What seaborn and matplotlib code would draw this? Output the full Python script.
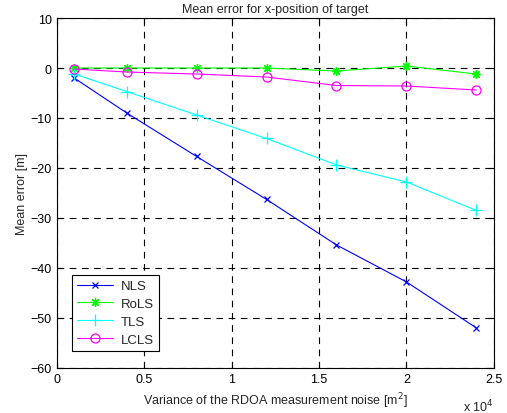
import numpy as np
import pandas as pd
import matplotlib
matplotlib.use("Agg")
import matplotlib.pyplot as plt
import seaborn as sns
from matplotlib.ticker import FuncFormatter

noise_var = [1000, 4000, 8000, 12000, 16000, 20000, 24000]
nls = [-2.0, -9.0, -17.7, -26.3, -35.4, -42.8, -52.0]
rols = [0.0, 0.0, 0.0, 0.0, -0.6, 0.4, -1.2]
tls = [-1.2, -4.7, -9.4, -14.1, -19.4, -22.8, -28.5]
lcls = [-0.2, -0.8, -1.2, -1.8, -3.5, -3.6, -4.4]
methods = ["NLS", "RoLS", "TLS", "LCLS"]

sns.set_style("white")
plt.rcParams['font.family'] = ['Liberation Sans', 'DejaVu Sans']
plt.rcParams['font.size'] = 9

df = pd.DataFrame({
    "x": noise_var * 4,
    "y": nls + rols + tls + lcls,
    "method": sum([[m] * len(noise_var) for m in methods], []),
})

colors = {"NLS": "#0000ff", "RoLS": "#00ff00", "TLS": "#00ffff", "LCLS": "#ff00ff"}
markers = {"NLS": "x", "RoLS": (8, 2, 0), "TLS": "+", "LCLS": "o"}
msizes = {"NLS": 4.5, "RoLS": 6.5, "TLS": 8, "LCLS": 6.5}

fig = plt.figure(figsize=(5.07, 4.14), dpi=100)
ax = fig.add_axes([0.112, 0.109, 0.862, 0.845])

for m in methods:
    sub = df[df.method == m]
    mk = markers[m]
    kw = dict(marker=mk, markersize=msizes[m], markeredgewidth=0.9,
              markeredgecolor=colors[m], linewidth=0.8, color=colors[m], label=m)
    if mk == "o":
        kw.update(markerfacecolor="none")
    else:
        kw.update(markerfacecolor=colors[m])
    sns.lineplot(data=sub, x="x", y="y", ax=ax, **kw)

ax.set_xlim(0, 25000)
ax.set_ylim(-60, 10)
ax.set_xticks([0, 5000, 10000, 15000, 20000, 25000])
ax.set_yticks(range(-60, 11, 10))
ax.xaxis.set_major_formatter(FuncFormatter(lambda v, p: f"{v/1e4:g}"))
ax.grid(True, color="black", linestyle=(0, (6, 5)), linewidth=0.8)
ax.tick_params(direction="in", length=4, width=0.8, colors="black", labelsize=9,
               top=True, right=True, bottom=True, left=True)
for s in ax.spines.values():
    s.set_color("black")
    s.set_linewidth(0.8)

ax.set_title("Mean error for x-position of target", fontsize=9, pad=4)
ax.set_xlabel("Variance of the RDOA measurement noise [m$^2$]", fontsize=9, labelpad=4)
ax.set_ylabel("Mean error [m]", fontsize=9, labelpad=2)
ax.text(1.0, -0.085, "x 10$^4$", transform=ax.transAxes, ha="right", va="top", fontsize=9)

leg = ax.legend(loc="lower left", bbox_to_anchor=(0.02, 0.03), fancybox=False,
                framealpha=1, edgecolor="black", fontsize=9.5, handlelength=2.7,
                borderpad=0.4, labelspacing=0.42, handletextpad=0.6)
leg.get_frame().set_linewidth(0.8)

fig.savefig("out.png", dpi=100)
